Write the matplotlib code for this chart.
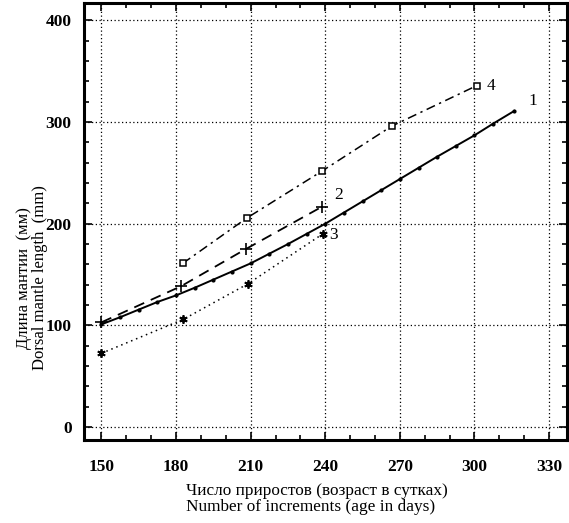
import matplotlib
matplotlib.use("Agg")
import matplotlib.pyplot as plt
from matplotlib.ticker import MultipleLocator

# ---- data ----
s1_x = [150, 157.5, 165, 172.5, 180, 187.5, 195, 202.5, 210, 217.5, 225, 232.5,
        240, 247.5, 255, 262.5, 270, 277.5, 285, 292.5, 300, 307.5, 316]
s1_y = [101, 108, 115.5, 123, 129.5, 137, 145, 153, 161, 170.5, 180, 190,
        200, 211, 222, 233, 244, 255, 266, 276.5, 287, 298.5, 311]

s2_x = [150, 182, 208, 238.5]
s2_y = [103, 138.5, 175, 216.5]

s3_x = [150, 183, 209, 239]
s3_y = [72.5, 106, 141, 190]

s4_x = [182.7, 208.4, 238.5, 266.7, 301]
s4_y = [161, 205.5, 251.5, 296, 336]

curve_labels = ["1", "2", "3", "4"]
label_pos = [(323.5, 321), (245.5, 228), (243.5, 189), (306.5, 336)]

x_ticks = [150, 180, 210, 240, 270, 300, 330]
y_ticks = [0, 100, 200, 300, 400]

xlabel_ru = "Число приростов (возраст в сутках)"
xlabel_en = "Number of increments (age in days)"
ylabel_ru = "Длина мантии  (мм)"
ylabel_en = "Dorsal mantle length  (mm)"

serif = ["Liberation Serif", "DejaVu Serif"]

W, H = 569, 523
fig = plt.figure(figsize=(W / 100, H / 100), dpi=100)
ax = fig.add_axes([84 / W, 1 - 440 / H, (567 - 84) / W, (440 - 3) / H])

ax.plot(s1_x, s1_y, color="black", lw=1.4, ls="-", marker="o", markersize=2.0)
ax.plot(s2_x, s2_y, color="black", lw=1.3, ls=(0, (6, 4)), marker="+",
        markersize=8, markeredgewidth=1.2)
ax.plot(s3_x, s3_y, color="black", lw=1.1, ls=(0, (1, 2.5)), marker=(6, 2, 0),
        markersize=6, markeredgewidth=1.3)
ax.plot(s4_x, s4_y, color="black", lw=1.1, ls=(0, (6, 3, 1.5, 3)), marker="s",
        markersize=5, markerfacecolor="white", markeredgewidth=1.1)

for t, (lx, ly) in zip(curve_labels, label_pos):
    ax.text(lx, ly, t, fontsize=12.5, family=serif, ha="center", va="center")

ax.set_xlim(143, 337.2)
ax.set_ylim(-12.8, 417.2)
ax.set_xticks(x_ticks)
ax.set_yticks(y_ticks)
ax.xaxis.set_minor_locator(MultipleLocator(10))
ax.yaxis.set_minor_locator(MultipleLocator(20))
ax.tick_params(which="both", direction="in", top=True, right=True, width=1.2)
ax.tick_params(which="major", length=6)
ax.tick_params(which="minor", length=3.5)
ax.tick_params(axis="x", which="major", pad=14)
ax.tick_params(axis="y", which="major", pad=9)
for lab in ax.get_xticklabels() + ax.get_yticklabels():
    lab.set_fontfamily(serif)
    lab.set_fontweight("bold")
    lab.set_fontsize(12.5)

ax.grid(True, which="major", color="black", ls=(0, (1, 2)), lw=0.9)
for sp in ax.spines.values():
    sp.set_linewidth(2.2)

fig.text(186 / W, 1 - 499 / H, xlabel_ru + "\n" + xlabel_en, fontsize=12.4,
         family=serif, ha="left", va="center", linespacing=0.95,
         multialignment="left")
fig.text(32 / W, 1 - 278 / H, ylabel_ru + "\n" + ylabel_en, fontsize=12,
         family=serif, ha="center", va="center", rotation=90,
         linespacing=1.0, multialignment="center")

fig.savefig("out.png", dpi=100)
